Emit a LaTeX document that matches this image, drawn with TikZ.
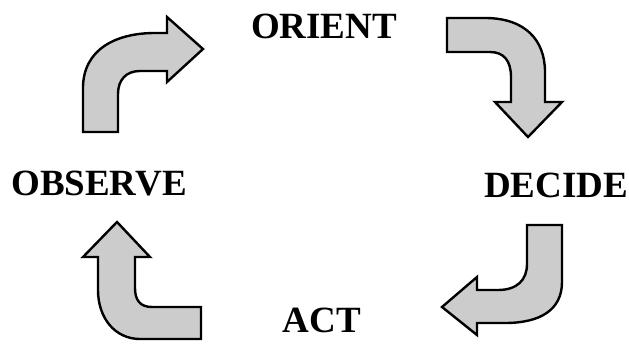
\documentclass[tikz,border=0pt]{standalone}
\usepackage{fontspec}
\setmainfont{Liberation Serif}
\usepackage{tikz}

\begin{document}
\begin{tikzpicture}[x=1pt, y=-1pt,
	bentarrow/.style={draw=black, line width=2.4pt, fill=gray!40, line join=miter},
	phase/.style={anchor=base, inner sep=0pt, font=\fontsize{37}{40}\selectfont\bfseries}]
	\useasboundingbox (0,0) rectangle (629,343);
	\node[phase] (orient) at (324,38) {ORIENT};
	\node[phase] (observe) at (99,195) {OBSERVE};
	\node[phase] (decide) at (556,197) {DECIDE};
	\node[phase] (act) at (322,332) {ACT};
	\draw[bentarrow] (83,132) -- (83,88) .. controls (83,50) and (115,33) .. (155,33) -- (167,33) -- (167,17) -- (203,49) -- (167,82) -- (167,71) -- (140,71) .. controls (126,71) and (118,80) .. (118,94) -- (118,132) -- cycle;
	\draw[bentarrow] (447,18) -- (485,18) .. controls (525,18) and (545,40) .. (545,72) -- (545,102) -- (562,102) -- (528,137) -- (495,102) -- (511,102) -- (511,77) .. controls (511,61) and (504,52) .. (490,52) -- (447,52) -- cycle;
	\draw[bentarrow] (527,225) -- (562,225) -- (562,282) .. controls (562,310) and (540,323) .. (505,323) -- (477,323) -- (477,335) -- (442,307) -- (477,277) -- (477,290) -- (498,290) .. controls (517,290) and (527,280) .. (527,264) -- cycle;
	\draw[bentarrow] (201,307) -- (201,339) -- (140,339) .. controls (115,339) and (98,318) .. (98,290) -- (98,257) -- (83,257) -- (117,222) -- (150,257) -- (135,257) -- (135,288) .. controls (135,300) and (140,307) .. (152,307) -- cycle;
\end{tikzpicture}
\end{document}
